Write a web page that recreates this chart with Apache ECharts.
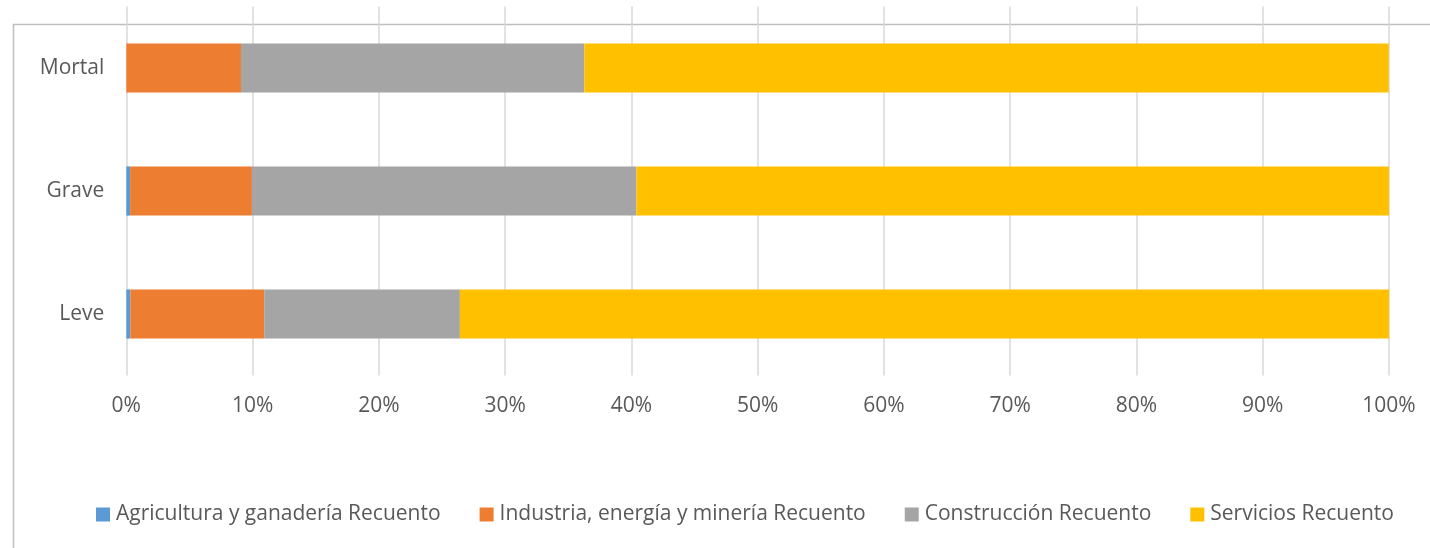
<!DOCTYPE html>
<html>
<head>
<meta charset="utf-8">
<script src="https://cdn.jsdelivr.net/npm/echarts@6/dist/echarts.min.js"></script>
<style>
html,body{margin:0;padding:0;background:#fff;}
#chart{width:1430px;height:548px;}
</style>
</head>
<body>
<div id="chart"></div>
<script>
const categories = ['Leve', 'Grave', 'Mortal'];
const seriesNames = ['Agricultura y ganadería Recuento', 'Industria, energía y minería Recuento', 'Construcción Recuento', 'Servicios Recuento'];
const agricultura = [0.32, 0.3, 0];
const industria = [10.6, 9.65, 9.08];
const construccion = [15.5, 30.45, 27.2];
const servicios = [73.6, 59.6, 63.7];
const colors = ['#5b9bd5', '#ed7d31', '#a5a5a5', '#ffc000'];
const FONT = 'Open Sans';
const TXT = '#595959';

const values = [agricultura, industria, construccion, servicios];
const chart = echarts.init(document.getElementById('chart'), null, {renderer: 'canvas'});
chart.setOption({
  animation: false,
  backgroundColor: '#fff',
  textStyle: {fontFamily: FONT},
  graphic: [{
    type: 'rect', left: 11, top: 22, z: -10,
    shape: {width: 1440, height: 600},
    style: {fill: 'none', stroke: '#bfbfbf', lineWidth: 1.5}
  }],
  grid: {left: 126.3, right: 41, top: 6.5, bottom: 172.5, containLabel: false},
  xAxis: {
    type: 'value', min: 0, max: 100, interval: 10,
    axisLine: {show: false}, axisTick: {show: false},
    splitLine: {show: true, lineStyle: {color: '#d9d9d9', width: 1.5}},
    axisLabel: {formatter: '{value}%', color: TXT, fontSize: 21, fontFamily: FONT, margin: 20}
  },
  yAxis: {
    type: 'category', data: categories,
    axisLine: {show: false}, axisTick: {show: false},
    axisLabel: {color: TXT, fontSize: 21, fontFamily: FONT, margin: 22}
  },
  legend: {
    left: 91, top: 499, itemWidth: 14, itemHeight: 14, itemGap: 39,
    icon: 'rect',
    textStyle: {color: TXT, fontSize: 21, fontFamily: FONT, padding: [0,0,0,1]},
    data: seriesNames
  },
  series: seriesNames.map((n, i) => ({
    name: n, type: 'bar', stack: 'total', barWidth: '40%',
    itemStyle: {color: colors[i]},
    data: values[i]
  }))
});
</script>
</body>
</html>
